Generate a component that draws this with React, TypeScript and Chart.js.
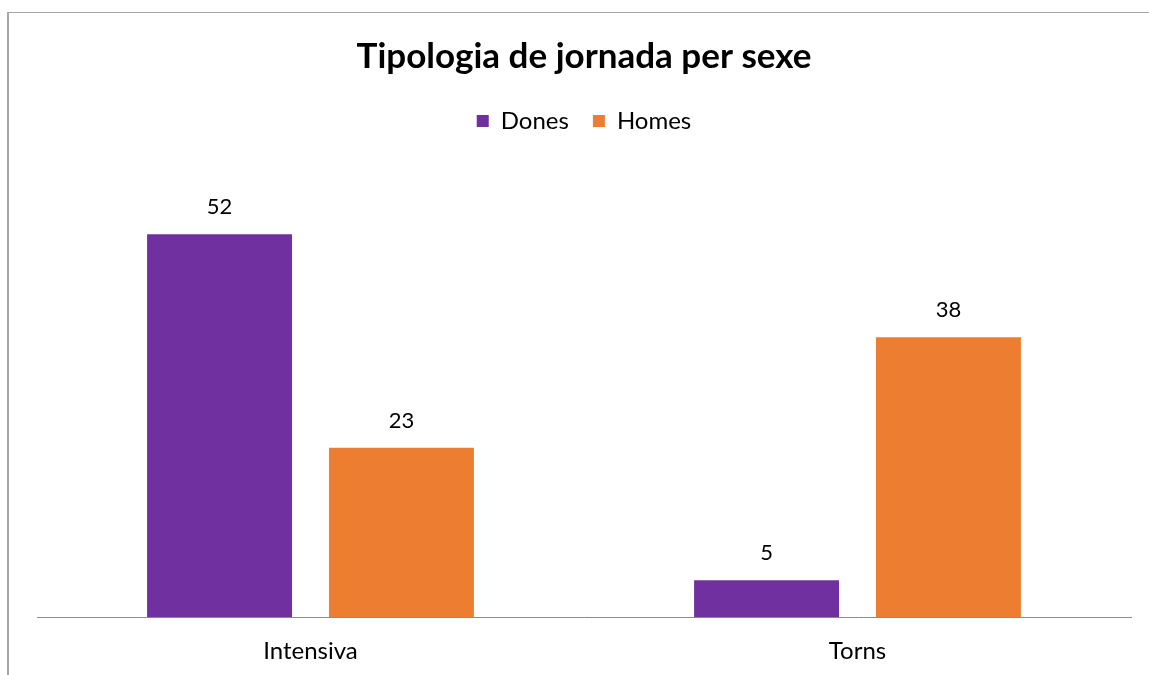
import React, { useEffect, useRef } from "react";
import { Chart, registerables } from "chart.js";

Chart.register(...registerables);

const categories = ["Intensiva", "Torns"];
const donesValues = [52, 5];
const homesValues = [23, 38];
const seriesLabels = ["Dones", "Homes"];
const chartTitle = "Tipologia de jornada per sexe";

const FONT = "Lato, 'Open Sans', sans-serif";

const valueLabels = {
  id: "valueLabels",
  afterDatasetsDraw(chart: any) {
    const ctx = chart.ctx;
    ctx.save();
    ctx.font = `22px ${FONT}`;
    ctx.fillStyle = "#000000";
    ctx.textAlign = "center";
    ctx.textBaseline = "middle";
    chart.data.datasets.forEach((ds: any, i: number) => {
      const meta = chart.getDatasetMeta(i);
      meta.data.forEach((el: any, j: number) => {
        ctx.fillText(String(ds.data[j]), el.x, el.y - 27);
      });
    });
    ctx.restore();
  },
};

export default function App() {
  const ref = useRef<HTMLCanvasElement>(null);
  useEffect(() => {
    if (!ref.current) return;
    const chart = new Chart(ref.current, {
      type: "bar",
      data: {
        labels: categories,
        datasets: [
          {
            label: seriesLabels[0],
            data: donesValues,
            backgroundColor: "#7030A0",
            barPercentage: 0.797,
            categoryPercentage: 0.665,
          },
          {
            label: seriesLabels[1],
            data: homesValues,
            backgroundColor: "#ED7D31",
            barPercentage: 0.797,
            categoryPercentage: 0.665,
          },
        ],
      },
      options: {
        animation: false,
        responsive: false,
        maintainAspectRatio: false,
        layout: { padding: { left: 37, right: 18, top: 0, bottom: -11 } },
        plugins: {
          title: {
            display: true,
            text: chartTitle,
            color: "#000000",
            font: { family: FONT, size: 35, weight: "bold" },
            padding: { top: 36, bottom: 7 },
          },
          subtitle: {
            display: true,
            text: "",
            weight: 500,
            font: { size: 1 },
            padding: { top: 31, bottom: 0 },
          } as any,
          legend: {
            display: true,
            labels: {
              color: "#000000",
              font: { family: FONT, size: 24 },
              boxWidth: 12,
              boxHeight: 12,
              padding: 24,
            },
          },
          tooltip: { enabled: false },
        },
        scales: {
          x: {
            grid: { display: false, drawTicks: false },
            border: { display: true, color: "#8c8c8c", width: 1 },
            ticks: {
              color: "#000000",
              font: { family: FONT, size: 24 },
              padding: 20,
            },
          },
          y: {
            display: false,
            min: 0,
            max: 60,
          },
        },
      },
      plugins: [valueLabels],
    });
    return () => chart.destroy();
  }, []);
  return (
    <div style={{ position: "fixed", left: 0, top: 0, width: 1149, height: 675, background: "#fff" }}>
      <div
        style={{
          position: "absolute",
          left: 7,
          top: 12,
          right: 0,
          bottom: 0,
          borderLeft: "2px solid #a6a6a6",
          borderTop: "1px solid #a6a6a6",
        }}
      />
      <canvas ref={ref} width={1149} height={675} style={{ position: "absolute", left: 0, top: 0 }} />
    </div>
  );
}
